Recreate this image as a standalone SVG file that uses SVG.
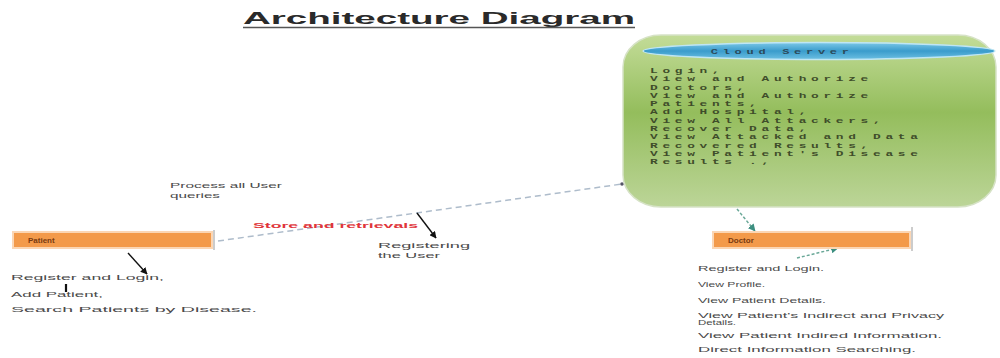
<svg xmlns="http://www.w3.org/2000/svg" width="1000" height="358" viewBox="0 0 1000 358">
<defs>
<linearGradient id="gCloud" x1="0" y1="0" x2="0" y2="1">
<stop offset="0" stop-color="#c3dc98"/>
<stop offset="0.45" stop-color="#94bd5c"/>
<stop offset="1" stop-color="#bcd598"/>
</linearGradient>
<linearGradient id="gEll" x1="0" y1="0" x2="0" y2="1">
<stop offset="0" stop-color="#7cc8e8"/>
<stop offset="0.5" stop-color="#3a9ccc"/>
<stop offset="1" stop-color="#6cbfe2"/>
</linearGradient>
<marker id="blk" viewBox="0 0 10 10" refX="9" refY="5" markerWidth="5" markerHeight="5" orient="auto">
<path d="M0,0 L10,5 L0,10 z" fill="#111"/>
</marker>
<marker id="grn" viewBox="0 0 10 10" refX="9" refY="5" markerWidth="5" markerHeight="5" orient="auto">
<path d="M0,0 L10,5 L0,10 z" fill="#3d8f80"/>
</marker>
<style>
.lbl{font-family:"Liberation Sans",Arial,sans-serif;font-size:7.5px;fill:#4a4a4a}
.mono{font-family:"Liberation Mono","Courier New",monospace;font-size:8px;font-weight:bold;fill:#3f4d2a;letter-spacing:2.95px}
.box{fill:#f39a4a;stroke:#fbd6b4;stroke-width:2}
.bt{font-family:"Liberation Sans",Arial,sans-serif;font-size:8px;fill:#7a3a10;font-weight:bold}
.gd{stroke:#6aa898;stroke-width:1.5;stroke-dasharray:3 2;fill:none}
</style>
</defs>

<g id="title">
<text x="243" y="24" font-family="Liberation Sans,Arial,sans-serif" font-size="16" font-weight="bold" fill="#2a2a2a" textLength="392" lengthAdjust="spacingAndGlyphs">Architecture Diagram</text>
<line x1="243" y1="27.5" x2="635" y2="27.5" stroke="#555" stroke-width="1.5"/>
</g>

<g id="connectors">
<line x1="218" y1="241" x2="622" y2="184" stroke="#aebccb" stroke-width="1.5" stroke-dasharray="6 4"/>
<circle cx="622" cy="184" r="1.8" fill="#556"/>
<line x1="417" y1="213" x2="436" y2="238" stroke="#111" stroke-width="1.4" marker-end="url(#blk)"/>
<line x1="128" y1="253" x2="147" y2="274" stroke="#111" stroke-width="1.4" marker-end="url(#blk)"/>
<line x1="66" y1="284" x2="66" y2="292" stroke="#111" stroke-width="2.2"/>
<line x1="737" y1="209" x2="755" y2="231" class="gd" marker-end="url(#grn)"/>
<line x1="797" y1="258" x2="838" y2="248" class="gd" marker-end="url(#grn)"/>
</g>

<g id="cloud-server">
<rect x="623" y="35" width="373" height="172" rx="38" ry="32" fill="url(#gCloud)" stroke="#d6e2c6" stroke-width="1.5"/>
<ellipse cx="819" cy="51" rx="176" ry="8.5" fill="url(#gEll)" stroke="#bfe6f4" stroke-width="1.5"/>
<g transform="translate(650 0) scale(1.6 1)">
<text x="38" y="54.5" class="mono" style="font-size:7.5px;letter-spacing:2.94px;fill:#2c4a5a">Cloud Server</text>
<text class="mono">
<tspan x="0" y="73">Login,</tspan>
<tspan x="0" y="81.3">View and Authorize</tspan>
<tspan x="0" y="89.6">Doctors,</tspan>
<tspan x="0" y="97.9">View and Authorize</tspan>
<tspan x="0" y="106.2">Patients,</tspan>
<tspan x="0" y="114.5">Add Hospital,</tspan>
<tspan x="0" y="122.8">View All Attackers,</tspan>
<tspan x="0" y="131.1">Recover Data,</tspan>
<tspan x="0" y="139.4">View Attacked and Data</tspan>
<tspan x="0" y="147.7">Recovered Results,</tspan>
<tspan x="0" y="156">View Patient's Disease</tspan>
<tspan x="0" y="164.3">Results .,</tspan>
</text>
</g>
</g>

<g id="patient">
<line x1="214" y1="230" x2="214" y2="250" stroke="#999" stroke-width="1"/>
<rect x="13" y="232" width="199" height="16" class="box"/>
<text x="28" y="243" class="bt">Patient</text>
<text x="11" y="280" class="lbl" textLength="153" lengthAdjust="spacingAndGlyphs">Register and Login,</text>
<text x="11" y="297" class="lbl" textLength="92" lengthAdjust="spacingAndGlyphs">Add Patient,</text>
<text x="11" y="312" class="lbl" textLength="246" lengthAdjust="spacingAndGlyphs">Search Patients by Disease.</text>
</g>

<g id="doctor">
<line x1="912" y1="227" x2="912" y2="251" stroke="#999" stroke-width="1"/>
<rect x="713" y="232" width="197" height="16" class="box"/>
<text x="728" y="243" class="bt">Doctor</text>
<text x="698" y="271" class="lbl" textLength="126" lengthAdjust="spacingAndGlyphs">Register and Login.</text>
<text x="698" y="287" class="lbl" textLength="67" lengthAdjust="spacingAndGlyphs">View Profile.</text>
<text x="698" y="303" class="lbl" textLength="128" lengthAdjust="spacingAndGlyphs">View Patient Details.</text>
<text x="698" y="318" class="lbl" textLength="246" lengthAdjust="spacingAndGlyphs">View Patient's Indirect and Privacy</text>
<text x="698" y="325" class="lbl" textLength="38" lengthAdjust="spacingAndGlyphs">Details.</text>
<text x="698" y="338" class="lbl" textLength="244" lengthAdjust="spacingAndGlyphs">View Patient Indired Information.</text>
<text x="698" y="352" class="lbl" textLength="218" lengthAdjust="spacingAndGlyphs">Direct Information Searching.</text>
</g>

<g id="labels">
<text x="170" y="188" class="lbl" textLength="112" lengthAdjust="spacingAndGlyphs">Process all User</text>
<text x="170" y="198" class="lbl" textLength="50" lengthAdjust="spacingAndGlyphs">queries</text>
<text x="253" y="228" class="lbl" style="fill:#e0353a;font-weight:bold" textLength="165" lengthAdjust="spacingAndGlyphs">Store and retrievals</text>
<text x="378" y="248" class="lbl" textLength="92" lengthAdjust="spacingAndGlyphs">Registering</text>
<text x="378" y="258" class="lbl" textLength="62" lengthAdjust="spacingAndGlyphs">the User</text>
</g>
</svg>
